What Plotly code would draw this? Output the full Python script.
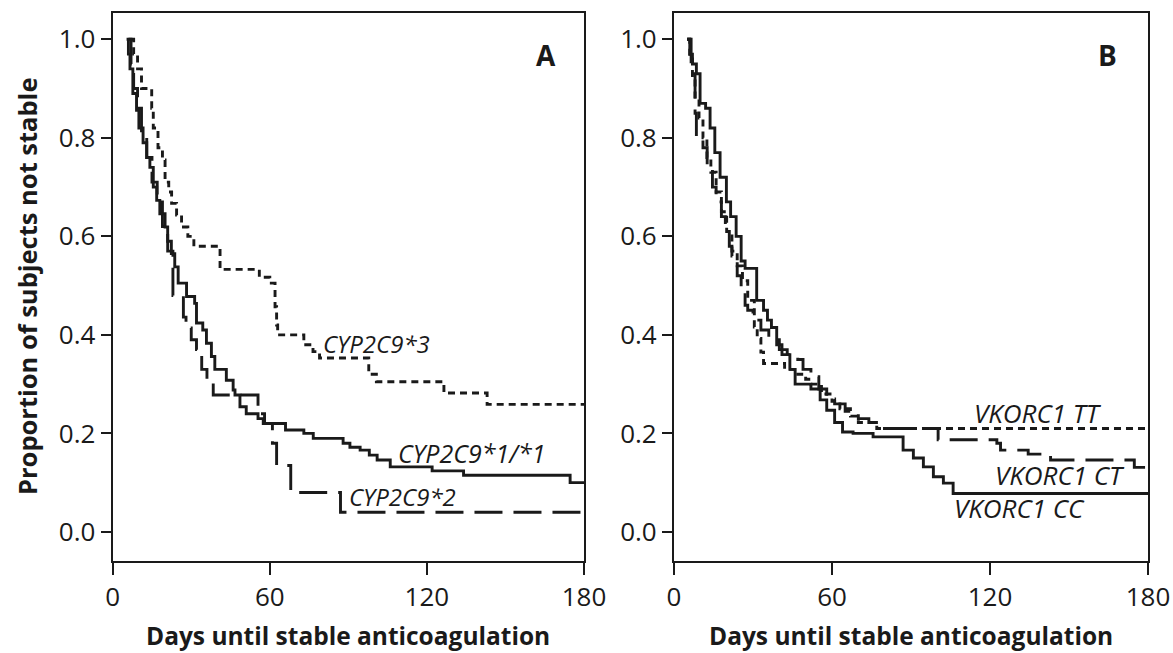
import plotly.graph_objects as go

# ---------------- Data ----------------
# Panel A: CYP2C9 genotypes
a11_days = [5.3, 6.0, 6.6, 7.7, 9.1, 10.0, 11.6, 13.0, 14.2, 15.5, 16.8, 18.0, 20.0, 21.0, 22.4,
            23.7, 25.0, 28.2, 31.3, 32.0, 34.4, 35.8, 37.7, 39.0, 43.4, 46.0, 46.7, 48.6, 51.0,
            55.5, 57.5, 66.0, 73.0, 76.6, 88.0, 90.6, 94.5, 98.0, 101.0, 106.0, 122.0, 134.0,
            174.7, 180.0]
a11_surv = [1.0, 0.97, 0.94, 0.89, 0.856, 0.82, 0.79, 0.76, 0.74, 0.70, 0.673, 0.646, 0.619, 0.59,
            0.565, 0.538, 0.505, 0.478, 0.464, 0.424, 0.41, 0.383, 0.356, 0.33, 0.308, 0.288, 0.278,
            0.254, 0.24, 0.23, 0.22, 0.207, 0.20, 0.19, 0.18, 0.172, 0.166, 0.156, 0.146, 0.132,
            0.124, 0.115, 0.10, 0.10]

a2_days = [6.0, 7.0, 8.0, 9.5, 11.0, 13.0, 15.0, 17.0, 19.0, 21.0, 23.0, 27.0, 28.0, 30.0, 32.0,
           34.0, 36.0, 38.4, 55.5, 58.0, 61.0, 62.6, 68.0, 87.0, 180.0]
a2_surv = [1.0, 0.95, 0.90, 0.86, 0.80, 0.76, 0.71, 0.67, 0.62, 0.57, 0.48, 0.436, 0.414, 0.39,
           0.37, 0.33, 0.31, 0.278, 0.24, 0.22, 0.18, 0.135, 0.08, 0.04, 0.04]

a3_days = [6.5, 8.0, 9.5, 11.0, 14.9, 15.5, 17.3, 19.0, 20.0, 21.4, 22.5, 24.4, 26.3, 28.7, 31.0,
           41.0, 56.0, 60.0, 62.0, 62.6, 63.0, 73.0, 76.5, 79.0, 97.8, 100.7, 126.5, 143.0, 180.0]
a3_surv = [1.0, 0.97, 0.94, 0.90, 0.86, 0.82, 0.78, 0.755, 0.71, 0.69, 0.667, 0.643, 0.619, 0.60,
           0.58, 0.533, 0.517, 0.505, 0.457, 0.42, 0.40, 0.38, 0.366, 0.353, 0.32, 0.305, 0.282,
           0.259, 0.259]

# Panel B: VKORC1 genotypes
bcc_days = [5, 6, 7, 8.5, 9.9, 12, 13.7, 15.5, 17.5, 19.9, 21.5, 23.6, 25.5, 27, 31.4, 34, 35.5,
            37, 39, 41, 44, 46, 52, 55.5, 58, 61, 64, 68, 75.6, 87, 90.9, 94.7, 98.5, 102.3, 106,
            180]
bcc_surv = [1.0, 0.97, 0.95, 0.93, 0.87, 0.86, 0.82, 0.77, 0.72, 0.67, 0.64, 0.60, 0.55, 0.535,
            0.47, 0.45, 0.43, 0.415, 0.38, 0.36, 0.33, 0.30, 0.29, 0.268, 0.247, 0.222, 0.203,
            0.20, 0.193, 0.166, 0.15, 0.132, 0.112, 0.099, 0.078, 0.078]

bct_days = [5, 6.5, 8, 8.5, 11, 12.6, 14.6, 16, 18, 19.5, 21, 22, 24, 25.5, 27, 28, 30, 33, 36, 40,
            43, 47, 49, 52, 55, 58, 61, 65, 70, 74, 78, 100.3, 122.6, 124, 134.5, 143, 174.8, 180]
bct_surv = [1.0, 0.93, 0.85, 0.80, 0.78, 0.74, 0.70, 0.67, 0.64, 0.61, 0.58, 0.56, 0.52, 0.49,
            0.46, 0.45, 0.43, 0.41, 0.39, 0.37, 0.36, 0.35, 0.33, 0.315, 0.29, 0.27, 0.26, 0.245,
            0.23, 0.222, 0.21, 0.187, 0.18, 0.166, 0.158, 0.146, 0.131, 0.131]

btt_days = [5, 6, 7, 8, 9.5, 11, 12.5, 14, 16, 18, 20, 22, 24, 26, 28, 30.5, 31.6, 33, 34, 42, 47,
            50, 52, 56, 60, 63, 67, 70, 77, 180]
btt_surv = [1.0, 0.96, 0.92, 0.88, 0.84, 0.80, 0.76, 0.73, 0.69, 0.65, 0.61, 0.57, 0.54, 0.51,
            0.47, 0.416, 0.393, 0.365, 0.342, 0.33, 0.32, 0.31, 0.30, 0.28, 0.265, 0.25, 0.235,
            0.222, 0.21, 0.21]

x_ticks = [0, 60, 120, 180]
y_ticks = [0.0, 0.2, 0.4, 0.6, 0.8, 1.0]

# ---------------- Styling ----------------
INK = "#1a1a1a"
FONT = "Open Sans"
W, H = 1173, 653
LW = 2.9
DOT = "7px,5px"
LONG = "28px,11px"

fig = go.Figure()

def add(days, surv, dash, xa, ya):
    fig.add_trace(go.Scatter(x=days, y=surv, mode="lines", line_shape="hv",
                             line=dict(color=INK, width=LW, dash=dash),
                             xaxis=xa, yaxis=ya, showlegend=False, hoverinfo="skip"))

add(a3_days, a3_surv, DOT, "x", "y")
add(a2_days, a2_surv, LONG, "x", "y")
add(a11_days, a11_surv, "solid", "x", "y")
add(btt_days, btt_surv, DOT, "x2", "y2")
add(bct_days, bct_surv, LONG, "x2", "y2")
add(bcc_days, bcc_surv, "solid", "x2", "y2")

ax_common = dict(showline=True, mirror=True, linecolor=INK, linewidth=2.2, ticks="outside",
                 tickcolor=INK, tickwidth=2.2, showgrid=False, zeroline=False, automargin=False,
                 tickfont=dict(family=FONT, size=26, color=INK))

xa = dict(ax_common, range=[0, 180], tickvals=x_ticks, ticklen=12)
ya = dict(ax_common, range=[-0.059, 1.054], tickvals=y_ticks, tickformat=".1f", ticklen=10)

ydom = [1 - 561 / H, 1 - 12.7 / H]
fig.update_layout(
    width=W, height=H, margin=dict(l=0, r=0, t=0, b=0, autoexpand=False),
    paper_bgcolor="white", plot_bgcolor="white",
    xaxis=dict(xa, domain=[112.7 / W, 584 / W], anchor="y"),
    yaxis=dict(ya, domain=ydom, anchor="x"),
    xaxis2=dict(xa, domain=[674 / W, 1148 / W], anchor="y2"),
    yaxis2=dict(ya, domain=ydom, anchor="x2"),
)

def lab(text, x, y, xref, yref, xanchor="left", size=24, bold=False, italic=False, angle=0):
    t = text
    if italic:
        t = "<i>" + t + "</i>"
    if bold:
        t = "<b>" + t + "</b>"
    fig.add_annotation(text=t, x=x, y=y, xref=xref, yref=yref, xanchor=xanchor,
                       yanchor="middle", showarrow=False, textangle=angle,
                       font=dict(family=FONT, size=size, color=INK))

# curve labels (data coordinates)
lab("CYP2C9*3", 79.5, 0.383, "x", "y", italic=True)
lab("CYP2C9*1/*1", 108.3, 0.160, "x", "y", italic=True, size=25)
lab("CYP2C9*2", 89.5, 0.071, "x", "y", italic=True)
lab("VKORC1 TT", 113.0, 0.241, "x2", "y2", italic=True, size=26)
lab("VKORC1 CT", 121.3, 0.115, "x2", "y2", italic=True, size=26)
lab("VKORC1 CC", 105.4, 0.048, "x2", "y2", italic=True, size=26)

# panel letters
lab("A", 165.5, 0.968, "x", "y", xanchor="center", bold=True, size=28)
lab("B", 164.8, 0.968, "x2", "y2", xanchor="center", bold=True, size=28)

# axis titles (paper coordinates)
lab("Days until stable anticoagulation", 348 / W, 1 - 635 / H, "paper", "paper",
    xanchor="center", bold=True, size=24.5)
lab("Days until stable anticoagulation", 911 / W, 1 - 635 / H, "paper", "paper",
    xanchor="center", bold=True, size=24.5)
lab("Proportion of subjects not stable", 27 / W, 1 - 287 / H, "paper", "paper",
    xanchor="center", bold=True, angle=-90, size=25.5)

fig.write_html("out.html", config={"displayModeBar": False},
               post_script="document.body.style.margin='0';document.body.style.padding='0';")
